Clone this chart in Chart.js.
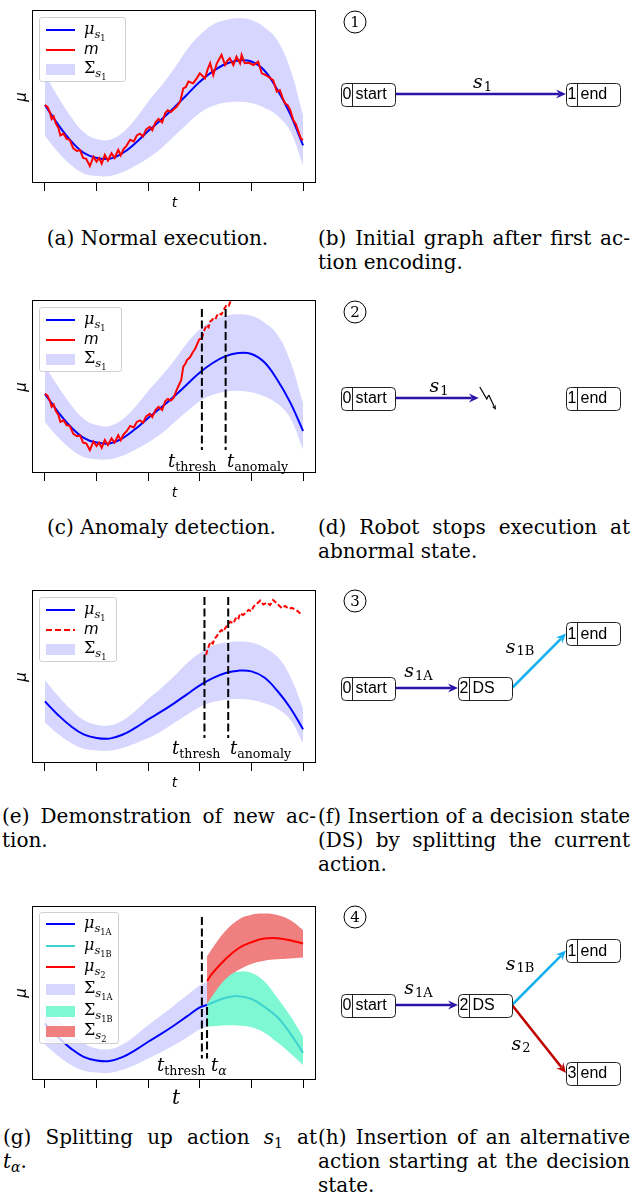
<!DOCTYPE html>
<html>
<head>
<meta charset="utf-8">
<script src="https://cdn.jsdelivr.net/npm/chart.js@4.4.1/dist/chart.umd.min.js"></script>
<style>
  html, body { margin: 0; padding: 0; background: #fff; }
  #page { position: relative; width: 640px; height: 1196px; overflow: hidden; }
  canvas { position: absolute; }
  .txt { position: absolute; white-space: nowrap; color: #000; line-height: 1; }
  .ctr { transform: translate(-50%, -50%); }
  .rot { transform: translate(-50%, -50%) rotate(-90deg); }
  .serif { font-family: 'DejaVu Serif', serif; }
  .sans { font-family: 'DejaVu Sans', sans-serif; }
  .mi { font-style: italic; }
  sub { font-size: 70%; vertical-align: -0.3em; line-height: 0; font-style: normal; }
  .cap { position: absolute; font-family: 'DejaVu Serif', serif; font-size: 20px; line-height: 24px;
         height: 24px; white-space: nowrap; color: #000; }
  .just { text-align: justify; text-align-last: justify; }
  .lg { position: absolute; background: rgba(255,255,255,0.8); border: 1px solid #d0d0d0;
        border-radius: 3px; box-sizing: border-box; }
  .lg .hd { position: absolute; left: 6px; width: 29px; }
  .lg .lb { position: absolute; left: 44px; font-family: 'DejaVu Serif', serif; font-size: 16px;
            line-height: 20px; height: 20px; white-space: nowrap; }
  .lg .lb sub { font-size: 72%; vertical-align: -0.35em; }
  .circ { position: absolute; width: 21px; height: 21px; border: 1.3px solid #000; border-radius: 50%;
          transform: translate(-50%, -50%); font: 15px 'DejaVu Serif', serif; text-align: center;
          line-height: 21px; }
</style>
</head>
<body>
<div id="page">
  <canvas id="chartA" width="320" height="200" style="left:0;top:0"></canvas>
  <canvas id="chartC" width="320" height="200" style="left:0;top:290px"></canvas>
  <canvas id="chartE" width="320" height="200" style="left:0;top:580px"></canvas>
  <canvas id="chartG" width="320" height="201" style="left:0;top:896px"></canvas>
  <canvas id="graphB" width="320" height="200" style="left:320px;top:-6px"></canvas>
  <canvas id="graphD" width="320" height="200" style="left:320px;top:298px"></canvas>
  <canvas id="graphF" width="320" height="200" style="left:320px;top:588px"></canvas>
  <canvas id="graphH" width="320" height="200" style="left:320px;top:905px"></canvas>

  <!-- captions -->
  <div class="cap" style="left:0;top:226px;width:315px;text-align:center">(a) Normal execution.</div>
  <div class="cap just" style="left:318px;top:226px;width:312px">(b) Initial graph after first ac-</div>
  <div class="cap" style="left:318px;top:250px">tion encoding.</div>

  <div class="cap" style="left:4px;top:515px;width:315px;text-align:center">(c) Anomaly detection.</div>
  <div class="cap just" style="left:318px;top:515px;width:312px">(d) Robot stops execution at</div>
  <div class="cap" style="left:318px;top:539px">abnormal state.</div>

  <div class="cap just" style="left:2px;top:804px;width:314px">(e) Demonstration of new ac-</div>
  <div class="cap" style="left:2px;top:828px">tion.</div>
  <div class="cap just" style="left:318px;top:804px;width:312px">(f) Insertion of a decision state</div>
  <div class="cap just" style="left:318px;top:828px;width:312px">(DS) by splitting the current</div>
  <div class="cap" style="left:318px;top:852px">action.</div>

  <div class="cap just" style="left:3px;top:1125px;width:314px">(g) Splitting up action <span class="mi">s</span><sub>1</sub> at</div>
  <div class="cap" style="left:3px;top:1149px"><span class="mi">t</span><sub class="mi">α</sub>.</div>
  <div class="cap just" style="left:318px;top:1125px;width:312px">(h) Insertion of an alternative</div>
  <div class="cap just" style="left:318px;top:1149px;width:312px">action starting at the decision</div>
  <div class="cap" style="left:318px;top:1173px">state.</div>

  <div class="circ" style="left:355px;top:22px">1</div>
  <div class="circ" style="left:355px;top:312px">2</div>
  <div class="circ" style="left:355px;top:601px">3</div>
  <div class="circ" style="left:355px;top:917px">4</div>
</div>

<script>
// ---------- time axis ----------
const T_TICKS = [0, 1, 2, 3, 4, 5];
const tGrid = [0, 0.25, 0.5, 0.75, 1, 1.25, 1.5, 1.75, 2, 2.25, 2.5, 2.75, 3, 3.25, 3.5, 3.75, 4, 4.25, 4.5, 4.75, 5];

// ---------- action s1 (panels a, c, e) ----------
const muS1       = [4.51, 3.40, 2.45, 1.75, 1.45, 1.40, 1.72, 2.30, 3.00, 3.65, 4.35, 5.10, 5.85, 6.45, 6.88, 7.08, 7.02, 6.50, 5.40, 3.98, 2.18];
const sigS1Upper = [6.29, 5.00, 3.85, 2.95, 2.55, 2.50, 2.90, 3.70, 4.70, 5.60, 6.60, 7.70, 8.55, 9.15, 9.42, 9.52, 9.42, 9.00, 8.25, 6.60, 3.90];
const sigS1Lower = [2.73, 1.80, 1.05, 0.55, 0.40, 0.40, 0.62, 1.00, 1.45, 2.00, 2.70, 3.40, 4.05, 4.45, 4.65, 4.70, 4.62, 4.35, 3.90, 3.00, 1.00];

// measured trajectory m, normal execution (a)
const mT = [0, 0.05, 0.10, 0.13, 0.17, 0.21, 0.26, 0.30, 0.36, 0.42, 0.48, 0.55, 0.62, 0.68, 0.74, 0.80, 0.87, 0.94, 1.00, 1.05,
            1.10, 1.16, 1.22, 1.29, 1.35, 1.42, 1.47, 1.52, 1.58, 1.65, 1.72, 1.78, 1.84, 1.90, 1.96, 2.03, 2.08, 2.14, 2.20, 2.27,
            2.33, 2.38, 2.44, 2.49, 2.55, 2.62, 2.68, 2.73, 2.78, 2.87, 2.94, 3.00, 3.05, 3.10, 3.15, 3.20, 3.26, 3.33, 3.42, 3.49,
            3.53, 3.58, 3.65, 3.71, 3.78, 3.81, 3.87, 3.95, 4.04, 4.13, 4.20, 4.27, 4.33, 4.42, 4.49, 4.55, 4.60, 4.65, 4.70, 4.75,
            4.81, 4.86, 4.91, 4.96, 5.00];
const mV = [4.51, 4.40, 4.05, 3.70, 3.85, 3.45, 3.20, 2.75, 2.85, 2.55, 2.50, 2.00, 1.85, 1.90, 1.45, 1.40, 0.98, 1.52, 1.23, 1.45,
            1.12, 1.62, 1.30, 1.72, 1.45, 1.91, 1.60, 1.95, 2.15, 2.50, 2.40, 2.75, 2.85, 2.70, 3.10, 3.25, 3.05, 3.50, 3.70, 3.50,
            4.05, 4.20, 4.10, 4.25, 4.41, 4.70, 5.47, 5.55, 5.86, 5.76, 6.05, 6.34, 6.20, 6.05, 6.55, 6.92, 6.24, 6.92, 7.40, 6.82,
            7.05, 7.21, 6.82, 7.30, 6.92, 7.40, 6.92, 6.95, 6.82, 7.01, 6.34, 6.25, 6.14, 5.95, 5.28, 5.37, 4.95, 4.61, 4.50, 4.22,
            3.64, 3.40, 2.97, 2.55, 2.49];

// anomaly (c): same start, then m escapes upward
const m2RiseT = [2.55, 2.60, 2.64, 2.68, 2.72, 2.75, 2.81, 2.87, 2.91, 2.94, 2.99, 3.04,
                 3.08, 3.13, 3.17, 3.20, 3.25, 3.29, 3.33, 3.36, 3.42, 3.46, 3.52, 3.56, 3.61, 3.66];
const m2RiseV = [4.75, 5.10, 5.38, 6.22, 6.40, 6.64, 6.81, 7.16, 7.35, 7.58, 7.94, 8.00,
                 8.45, 8.84, 8.70, 9.05, 9.20, 9.15, 9.40, 9.57, 9.50, 9.78, 10.10, 10.05, 10.45, 10.90];
const m2T = mT.slice(0, 44).concat(m2RiseT);
const m2V = mV.slice(0, 44).concat(m2RiseV);

// new demonstration (e)
const m3T = [3.12, 3.15, 3.17, 3.21, 3.25, 3.29, 3.33, 3.36, 3.42, 3.46, 3.49, 3.54, 3.59, 3.65, 3.71, 3.75, 3.78, 3.84, 3.90, 3.94,
             4.00, 4.04, 4.10, 4.17, 4.23, 4.30, 4.36, 4.42, 4.49, 4.54, 4.59, 4.65, 4.72, 4.78, 4.84, 4.91, 4.97];
const m3V = [8.39, 8.85, 9.08, 9.50, 9.35, 9.78, 9.95, 10.20, 10.47, 10.35, 10.62, 10.90, 11.17, 11.03, 11.59, 11.45, 11.87, 11.73, 11.95, 12.15,
             12.05, 12.43, 12.65, 12.93, 12.60, 12.76, 12.56, 12.98, 12.70, 12.50, 12.29, 12.48, 12.25, 12.32, 12.20, 12.00, 11.73];

// ---------- split actions (g) ----------
const tA          = [0, 0.25, 0.5, 0.75, 1, 1.25, 1.5, 1.75, 2, 2.25, 2.5, 2.75, 3, 3.14];
const muS1A       = [4.51, 3.40, 2.45, 1.75, 1.45, 1.40, 1.72, 2.30, 3.00, 3.65, 4.35, 5.10, 5.85, 6.05];
const sigS1AUpper = [6.26, 4.95, 3.80, 2.90, 2.45, 2.38, 2.77, 3.50, 4.38, 5.17, 6.00, 6.85, 7.67, 7.95];
const sigS1ALower = [2.76, 1.85, 1.10, 0.60, 0.45, 0.42, 0.67, 1.10, 1.62, 2.13, 2.70, 3.35, 4.03, 4.25];
const tB          = [3.14, 3.25, 3.5, 3.75, 4, 4.25, 4.5, 4.75, 5];
const muS1B       = [6.05, 6.25, 6.65, 6.78, 6.55, 5.90, 5.05, 3.70, 2.09];
const sigS1BUpper = [7.80, 8.10, 8.60, 8.80, 8.70, 8.00, 6.65, 5.15, 3.41];
const sigS1BLower = [4.24, 4.28, 4.36, 4.35, 4.20, 3.75, 2.95, 2.05, 1.07];
const muS2        = [8.04, 8.70, 9.85, 10.75, 11.25, 11.55, 11.58, 11.42, 11.13];
const sigS2Upper  = [10.09, 10.80, 12.20, 13.12, 13.52, 13.62, 13.50, 13.08, 12.24];
const sigS2Lower  = [6.11, 6.85, 8.20, 8.95, 9.45, 9.72, 9.83, 9.90, 9.98];

// vertical markers
const C_T_THRESH = 3.04, C_T_ANOMALY = 3.50, C_VLINE_Y = [9.84, 0.99];
const E_T_THRESH = 3.09, E_T_ANOMALY = 3.55, E_VLINE_Y = [13.23, 1.45];
const G_T_THRESH = 3.04, G_T_ALPHA = 3.14, G_THRESH_Y = [13.34, 1.62], G_ALPHA_Y = [5.89, 1.62];

// ---------- graphs (b, d, f, h) ----------
const gB = { ids: [0, 1], names: ['start', 'end'], col: [0, 2], row: [0, 0],
             from: [0], to: [1], sub: ['1'], stop: [1] };
const gD = { ids: [0, 1], names: ['start', 'end'], col: [0, 2], row: [0, 0],
             from: [0], to: [1], sub: ['1'], stop: [0.49] };
const gF = { ids: [0, 2, 1], names: ['start', 'DS', 'end'], col: [0, 1.04, 2], row: [0, 0, 0.8],
             from: [0, 2], to: [2, 1], sub: ['1A', '1B'], stop: [1, 1] };
const gH = { ids: [0, 2, 1, 3], names: ['start', 'DS', 'end', 'end'], col: [0, 1.04, 2, 2], row: [0, 0, 0.8, -1.0],
             from: [0, 2, 2], to: [2, 1, 3], sub: ['1A', '1B', '2'], stop: [1, 1, 1] };

// ---------- styles ----------
const BLUE = '#0000ff', RED = '#ff0000', LAVENDER = 'rgba(0,0,255,0.16)';
const TURQ = '#3fd3cf', AQUA = '#7ef7d3', CORAL = '#f08080';
const EDGE_COLORS = { '1': '#2a14a8', '1A': '#2a14a8', '1B': '#16b0ee', '2': '#bf0000' };
const NODE_W = 54, NODE_H = 23;

const page = document.getElementById('page');
const pts = (xs, ys) => xs.map((x, i) => ({ x: x, y: ys[i] }));

function lineDs(xs, ys, color, width, extra) {
  return Object.assign({ data: pts(xs, ys), borderColor: color, borderWidth: width, pointRadius: 0,
                         fill: false, tension: 0 }, extra || {});
}
function smoothDs(xs, ys, color, width) {
  return lineDs(xs, ys, color, width, { tension: 0.4 });
}
function bandDs(xs, up, lo, color) {
  return [
    { data: pts(xs, up), borderColor: 'rgba(0,0,0,0)', borderWidth: 0, pointRadius: 0,
      backgroundColor: color, fill: '+1', tension: 0.4 },
    { data: pts(xs, lo), borderColor: 'rgba(0,0,0,0)', borderWidth: 0, pointRadius: 0,
      fill: false, tension: 0.4 }
  ];
}
function vline(t, yy) {
  return lineDs([t, t], yy, '#000', 2, { borderDash: [8, 3.5] });
}
// split a series at t0: solid before, dashed after
function splitAt(xs, ys, t0) {
  const a = [], b = [];
  xs.forEach((x, i) => { if (x <= t0) a.push(i); if (x >= t0) b.push(i); });
  return [a.map(i => xs[i]), a.map(i => ys[i]), b.map(i => xs[i]), b.map(i => ys[i])];
}

// matplotlib style box around the plot area
const framePlugin = {
  id: 'frame',
  afterDatasetsDraw(chart) {
    const { ctx, chartArea: a } = chart;
    ctx.save();
    ctx.strokeStyle = '#000';
    ctx.lineWidth = 1;
    ctx.strokeRect(Math.round(a.left) + 0.5, Math.round(a.top) + 0.5,
                   Math.round(a.right - a.left) - 1, Math.round(a.bottom - a.top) - 1);
    ctx.restore();
  }
};

function makeLineChart(id, yMin, yMax, datasets) {
  return new Chart(document.getElementById(id), {
    type: 'line',
    data: { datasets: datasets },
    options: {
      responsive: false,
      animation: false,
      events: [],
      layout: { padding: { left: 32, right: 4, top: 10, bottom: 7 } },
      plugins: { legend: { display: false }, tooltip: { enabled: false } },
      scales: {
        x: {
          type: 'linear', min: -0.25, max: 5.25,
          afterBuildTicks: ax => { ax.ticks = T_TICKS.map(v => ({ value: v })); },
          afterFit: ax => { ax.height = 10; },
          ticks: { display: false },
          grid: { drawOnChartArea: false, drawTicks: true, tickLength: 8, color: '#000', lineWidth: 1 },
          border: { display: false }
        },
        y: { type: 'linear', display: false, min: yMin, max: yMax }
      }
    },
    plugins: [framePlugin]
  });
}

// ---- (a) normal execution
makeLineChart('chartA', 0, 10, [
  lineDs(mT, mV, RED, 2),
  smoothDs(tGrid, muS1, BLUE, 2),
  ...bandDs(tGrid, sigS1Upper, sigS1Lower, LAVENDER)
]);

// ---- (c) anomaly detection
const [c1T, c1V, c2T, c2V] = splitAt(m2T, m2V, C_T_THRESH);
makeLineChart('chartC', -0.46, 10.41, [
  vline(C_T_THRESH, C_VLINE_Y),
  vline(C_T_ANOMALY, C_VLINE_Y),
  lineDs(c1T, c1V, RED, 2),
  lineDs(c2T, c2V, RED, 2, { borderDash: [5, 2.5] }),
  smoothDs(tGrid, muS1, BLUE, 2),
  ...bandDs(tGrid, sigS1Upper, sigS1Lower, LAVENDER)
]);

// ---- (e) demonstration of new action
makeLineChart('chartE', -0.636, 13.815, [
  vline(E_T_THRESH, E_VLINE_Y),
  vline(E_T_ANOMALY, E_VLINE_Y),
  lineDs(m3T, m3V, RED, 2, { borderDash: [5, 2.5] }),
  smoothDs(tGrid, muS1, BLUE, 2),
  ...bandDs(tGrid, sigS1Upper, sigS1Lower, LAVENDER)
]);

// ---- (g) splitting the action
makeLineChart('chartG', -0.17, 14.25, [
  vline(G_T_THRESH, G_THRESH_Y),
  vline(G_T_ALPHA, G_ALPHA_Y),
  smoothDs(tB, muS2, RED, 2),
  smoothDs(tB, muS1B, TURQ, 2),
  smoothDs(tA, muS1A, BLUE, 2),
  ...bandDs(tB, sigS2Upper, sigS2Lower, CORAL),
  ...bandDs(tB, sigS1BUpper, sigS1BLower, AQUA),
  ...bandDs(tA, sigS1AUpper, sigS1ALower, LAVENDER)
]);

// ---------- graph drawing ----------
function drawArrow(ctx, p0, p1, color, w, hl, hw) {
  const dx = p1.x - p0.x, dy = p1.y - p0.y, L = Math.hypot(dx, dy);
  const ux = dx / L, uy = dy / L, nx = -uy, ny = ux;
  ctx.save();
  ctx.strokeStyle = color; ctx.fillStyle = color; ctx.lineWidth = w;
  ctx.beginPath();
  ctx.moveTo(p0.x, p0.y);
  ctx.lineTo(p1.x - ux * hl * 0.7, p1.y - uy * hl * 0.7);
  ctx.stroke();
  ctx.beginPath();
  ctx.moveTo(p1.x, p1.y);
  ctx.lineTo(p1.x - ux * hl + nx * hw, p1.y - uy * hl + ny * hw);
  ctx.lineTo(p1.x - ux * hl * 0.65, p1.y - uy * hl * 0.65);
  ctx.lineTo(p1.x - ux * hl - nx * hw, p1.y - uy * hl - ny * hw);
  ctx.closePath();
  ctx.fill();
  ctx.restore();
}

function drawBolt(ctx, p) {
  ctx.save();
  ctx.strokeStyle = '#000'; ctx.lineWidth = 1.2;
  ctx.beginPath();
  ctx.moveTo(p.x + 1, p.y - 11);
  ctx.lineTo(p.x + 8, p.y + 1);
  ctx.lineTo(p.x + 10, p.y - 3);
  ctx.stroke();
  ctx.restore();
  drawArrow(ctx, { x: p.x + 10, y: p.y - 3 }, { x: p.x + 17, y: p.y + 12 }, '#000', 1.2, 5, 2.2);
}

function drawSub(ctx, base, sub, cx, baseline) {
  const fb = 'italic 19px "DejaVu Serif", serif', fs = '13px "DejaVu Serif", serif';
  ctx.save();
  ctx.fillStyle = '#000'; ctx.textBaseline = 'alphabetic'; ctx.textAlign = 'left';
  ctx.font = fb; const wb = ctx.measureText(base).width;
  ctx.font = fs; const ws = ctx.measureText(sub).width;
  const x0 = cx - (wb + ws + 1) / 2;
  ctx.font = fb; ctx.fillText(base, x0, baseline);
  ctx.font = fs; ctx.fillText(sub, x0 + wb + 1, baseline + 2.5);
  ctx.restore();
}

function drawNode(ctx, c, num, name) {
  const l = Math.round(c.x - NODE_W / 2) + 0.5, t = Math.round(c.y - NODE_H / 2) + 0.5, r = 4;
  ctx.save();
  ctx.beginPath();
  ctx.moveTo(l + r, t);
  ctx.lineTo(l + NODE_W - r, t); ctx.arcTo(l + NODE_W, t, l + NODE_W, t + r, r);
  ctx.lineTo(l + NODE_W, t + NODE_H - r); ctx.arcTo(l + NODE_W, t + NODE_H, l + NODE_W - r, t + NODE_H, r);
  ctx.lineTo(l + r, t + NODE_H); ctx.arcTo(l, t + NODE_H, l, t + NODE_H - r, r);
  ctx.lineTo(l, t + r); ctx.arcTo(l, t, l + r, t, r);
  ctx.closePath();
  ctx.fillStyle = '#fff'; ctx.fill();
  ctx.lineWidth = 1; ctx.strokeStyle = '#222'; ctx.stroke();
  ctx.beginPath(); ctx.moveTo(l + 11, t); ctx.lineTo(l + 11, t + NODE_H); ctx.stroke();
  ctx.fillStyle = '#000';
  ctx.font = '16px "Liberation Sans", Arial, sans-serif';
  ctx.textBaseline = 'middle';
  ctx.textAlign = 'center'; ctx.fillText(num, l + 5.5, c.y + 1);
  ctx.textAlign = 'left'; ctx.fillText(name, l + 14, c.y + 1);
  ctx.restore();
}

function graphPlugin(g) {
  return {
    id: 'graph',
    afterDatasetsDraw(chart) {
      const ctx = chart.ctx, xs = chart.scales.x, ys = chart.scales.y;
      const pos = {};
      g.ids.forEach((id, i) => {
        pos[id] = { x: xs.getPixelForValue(g.col[i]), y: ys.getPixelForValue(g.row[i]) };
      });
      g.from.forEach((f, k) => {
        const a = pos[f], b = pos[g.to[k]];
        const p0 = { x: a.x + NODE_W / 2, y: a.y };
        const full = { x: b.x - NODE_W / 2, y: b.y };
        const s = g.stop[k];
        const p1 = { x: p0.x + (full.x - p0.x) * s, y: p0.y + (full.y - p0.y) * s };
        drawArrow(ctx, p0, p1, EDGE_COLORS[g.sub[k]], 2.6, 10, 4.5);
        if (s < 1) drawBolt(ctx, p1);
        const mx = (p0.x + p1.x) / 2, my = (p0.y + p1.y) / 2, dy = p1.y - p0.y;
        let lx, lb;
        if (dy < -1) { lx = mx - 19; lb = my - 8; }
        else if (dy > 1) { lx = mx - 18; lb = my + 10.5; }
        else { lx = mx + (g.sub[k].length > 1 ? -8 : 2); lb = my - (g.sub[k].length > 1 ? 11 : 6); }
        drawSub(ctx, 's', g.sub[k], lx, lb);
      });
      g.ids.forEach((id, i) => drawNode(ctx, pos[id], String(id), g.names[i]));
    }
  };
}

function makeGraph(id, g) {
  return new Chart(document.getElementById(id), {
    type: 'scatter',
    data: { datasets: [{ data: pts(g.col, g.row), pointRadius: 0 }] },
    options: {
      responsive: false, animation: false, events: [],
      layout: { padding: 0 },
      plugins: { legend: { display: false }, tooltip: { enabled: false } },
      scales: {
        x: { display: false, min: -48 / 112.5, max: 272 / 112.5 },
        y: { display: false, min: -100 / 68, max: 100 / 68 }
      }
    },
    plugins: [graphPlugin(g)]
  });
}

makeGraph('graphB', gB);
makeGraph('graphD', gD);
makeGraph('graphF', gF);
makeGraph('graphH', gH);

// ---------- html text: axis labels, legends, markers ----------
function addText(html, x, y, cls, style) {
  const d = document.createElement('div');
  d.className = 'txt ' + (cls || '');
  d.innerHTML = html;
  d.style.left = x + 'px';
  d.style.top = y + 'px';
  if (style) Object.assign(d.style, style);
  page.appendChild(d);
  return d;
}

[[202, 96.5], [492, 386.5], [782, 676.5]].forEach(([ty, my]) => {
  addText('<span class="mi">t</span>', 174.5, ty, 'sans ctr', { fontSize: '14px' });
  addText('<span class="mi">μ</span>', 21, my, 'sans rot', { fontSize: '15px' });
});
addText('<span class="mi">t</span>', 176, 1097, 'serif ctr', { fontSize: '20px' });
addText('<span class="mi">μ</span>', 21, 993, 'sans rot', { fontSize: '15px' });

const MU = s => '<span class="mi">μ</span><sub><span class="mi">s</span><sub>' + s + '</sub></sub>';
const SIG = s => '<span>Σ</span><sub><span class="mi">s</span><sub>' + s + '</sub></sub>';
const M = '<span class="sans mi" style="font-size:15px">m</span>';

function legend(x, y, w, h, rowYs, entries) {
  const box = document.createElement('div');
  box.className = 'lg';
  Object.assign(box.style, { left: x + 'px', top: y + 'px', width: w + 'px', height: h + 'px' });
  entries.forEach((e, i) => {
    const ry = rowYs[i];
    const hd = document.createElement('div');
    hd.className = 'hd';
    if (e.kind === 'fill') {
      Object.assign(hd.style, { top: (ry - 5.5) + 'px', height: '11px', background: e.color });
    } else if (e.kind === 'dash') {
      Object.assign(hd.style, { top: (ry - 1) + 'px', height: '2px',
        background: 'repeating-linear-gradient(90deg,' + e.color + ' 0 6px, transparent 6px 9px)' });
    } else {
      Object.assign(hd.style, { top: (ry - 1) + 'px', height: '2px', background: e.color });
    }
    box.appendChild(hd);
    const lb = document.createElement('div');
    lb.className = 'lb';
    lb.style.top = (ry - 11) + 'px';
    lb.innerHTML = e.html;
    box.appendChild(lb);
  });
  page.appendChild(box);
}

legend(39, 17, 87, 65, [12, 32, 51], [
  { kind: 'line', color: BLUE, html: MU('1') },
  { kind: 'line', color: RED, html: M },
  { kind: 'fill', color: LAVENDER, html: SIG('1') }
]);
legend(39, 307, 83, 65, [12, 32, 51], [
  { kind: 'line', color: BLUE, html: MU('1') },
  { kind: 'line', color: RED, html: M },
  { kind: 'fill', color: LAVENDER, html: SIG('1') }
]);
legend(39, 597, 78, 65, [12, 32, 51], [
  { kind: 'line', color: BLUE, html: MU('1') },
  { kind: 'dash', color: RED, html: M },
  { kind: 'fill', color: LAVENDER, html: SIG('1') }
]);
legend(39, 912, 80, 132, [11, 33, 54, 76, 98, 118], [
  { kind: 'line', color: BLUE, html: MU('1A') },
  { kind: 'line', color: TURQ, html: MU('1B') },
  { kind: 'line', color: RED, html: MU('2') },
  { kind: 'fill', color: LAVENDER, html: SIG('1A') },
  { kind: 'fill', color: AQUA, html: SIG('1B') },
  { kind: 'fill', color: CORAL, html: SIG('2') }
]);

const TSUB = s => '<span class="mi">t</span><sub>' + s + '</sub>';
const annStyle = { fontSize: '18px' };
addText(TSUB('thresh'), 168, 452, 'serif', annStyle);
addText(TSUB('anomaly'), 227, 452, 'serif', annStyle);
addText(TSUB('thresh'), 172, 739, 'serif', annStyle);
addText(TSUB('anomaly'), 230, 739, 'serif', annStyle);
addText(TSUB('thresh'), 157, 1056, 'serif', annStyle);
addText('<span class="mi">t</span><sub class="mi">α</sub>', 211, 1056, 'serif', annStyle);
</script>
</body>
</html>
